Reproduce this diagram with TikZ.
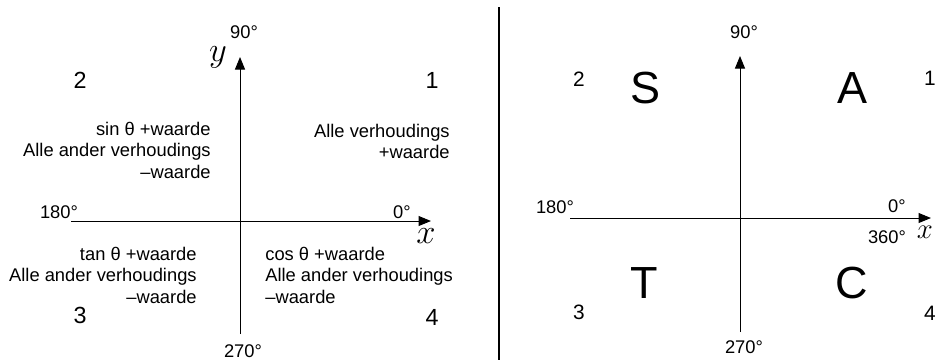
\documentclass[tikz,border=0pt]{standalone}
\usepackage{fontspec}
\setmainfont{Liberation Sans}
\usetikzlibrary{positioning, arrows.meta}

\begin{document}
\begin{tikzpicture}[
        x=0.6pt, y=-0.6pt,
        axis/.style={draw, line width=0.6pt, -{Triangle[length=7.5pt, width=6pt]}},
        divider/.style={draw, line width=1.3pt},
        quadnum/.style={inner sep=0pt, font=\fontsize{14}{16}\selectfont},
        smallnum/.style={inner sep=0pt, font=\fontsize{12.5}{14}\selectfont},
        anglelab/.style={inner sep=0pt, font=\fontsize{11}{13}\selectfont},
        ratiotext/.style={inner sep=0pt, font=\fontsize{11}{12.8}\selectfont},
        bigletter/.style={inner sep=0pt, font=\fontsize{27}{29}\selectfont},
        axisname/.style={inner sep=0pt, font=\fontsize{22}{24}\selectfont}
    ]
    \useasboundingbox (0,0) rectangle (944,360);
    % left diagram: signs of the ratios
    \coordinate (lxs) at (71,221);
    \coordinate (lxe) at (431,221);
    \coordinate (lys) at (240,334);
    \coordinate (lye) at (240,57);
    \draw[axis] (lxs) -- (lxe);
    \draw[axis] (lys) -- (lye);
    \node[anglelab] (l90) at (244,32) {90°};
    \node[anglelab] (l180) at (59,212) {180°};
    \node[anglelab] (l0) at (402,212) {0°};
    \node[anglelab] (l270) at (243,351) {270°};
    \node[axisname] (ly) at (218,57) {$y$};
    \node[axisname] (lx) at (426,236) {$x$};
    \node[quadnum] (lq2) at (80,80) {2};
    \node[quadnum] (lq1) at (432,80) {1};
    \node[quadnum] (lq3) at (80,315) {3};
    \node[quadnum] (lq4) at (432,317) {4};
    \node[ratiotext, anchor=north east, align=right] (ltext2) at (211,122)
        {sin θ +waarde\\Alle ander verhoudings\\–waarde};
    \node[ratiotext, anchor=north east, align=right] (ltext1) at (450,124)
        {Alle verhoudings\\+waarde};
    \node[ratiotext, anchor=north east, align=right] (ltext3) at (197,247)
        {tan θ +waarde\\Alle ander verhoudings\\–waarde};
    \node[ratiotext, anchor=north west, align=left] (ltext4) at (265,247)
        {cos θ +waarde\\Alle ander verhoudings\\–waarde};
    % divider
    \coordinate (dtop) at (499,7);
    \coordinate (dbot) at (499,360);
    \draw[divider] (dtop) -- (dbot);
    % right diagram: S A T C
    \coordinate (rxs) at (570,218);
    \coordinate (rxe) at (931,218);
    \coordinate (rys) at (740,332);
    \coordinate (rye) at (740,56);
    \draw[axis] (rxs) -- (rxe);
    \draw[axis] (rys) -- (rye);
    \node[anglelab] (r90) at (744,32) {90°};
    \node[anglelab] (r180) at (555,207) {180°};
    \node[anglelab] (r0) at (897,206) {0°};
    \node[anglelab] (r360) at (887,237) {360°};
    \node[anglelab] (r270) at (744,347) {270°};
    \node[axisname, font=\fontsize{18}{20}\selectfont] (rx) at (925,232) {$x$};
    \node[smallnum] (rq2) at (579,79) {2};
    \node[smallnum] (rq1) at (930,78) {1};
    \node[smallnum] (rq3) at (579,312) {3};
    \node[smallnum] (rq4) at (930,313) {4};
    \node[bigletter] (rs) at (645,88) {S};
    \node[bigletter] (ra) at (852,88) {A};
    \node[bigletter] (rt) at (644,283) {T};
    \node[bigletter] (rc) at (852,283) {C};
\end{tikzpicture}
\end{document}
